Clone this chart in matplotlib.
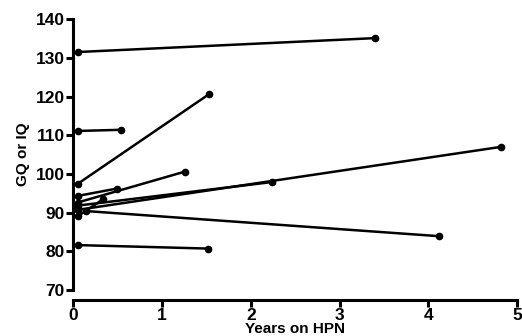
import matplotlib
matplotlib.use("Agg")
import matplotlib.pyplot as plt

# Dados: cada paciente tem um valor inicial e um valor de seguimento
anos_inicio = [0.05, 0.05, 0.05, 0.05, 0.05, 0.05, 0.05, 0.145, 0.05, 0.05]
anos_fim = [3.40, 0.54, 1.53, 0.49, 1.26, 2.24, 4.82, 4.12, 0.34, 1.52]
qi_inicio = [131.5, 111.1, 97.4, 94.3, 92.6, 91.8, 90.7, 90.4, 89.0, 81.6]
qi_fim = [135.1, 111.4, 120.6, 96.2, 100.6, 97.9, 107.0, 83.9, 93.5, 80.7]

x_ticks = [0, 1, 2, 3, 4, 5]
y_ticks = [70, 80, 90, 100, 110, 120, 130, 140]

plt.rcParams['font.family'] = ['Liberation Sans', 'DejaVu Sans']

fig = plt.figure(figsize=(5.22, 3.36), dpi=100)
ax = fig.add_axes([0.140, 0.137, 0.851, 0.806])

for x0, x1, y0, y1 in zip(anos_inicio, anos_fim, qi_inicio, qi_fim):
    ax.plot([x0, x1], [y0, y1], color="black", lw=1.8,
            marker="o", markersize=4.5, solid_capstyle="round")

ax.set_xlim(0, 5)
ax.set_ylim(70, 140)
ax.set_xticks(x_ticks)
ax.set_yticks(y_ticks)

ax.spines['top'].set_visible(False)
ax.spines['right'].set_visible(False)
ax.spines['bottom'].set_position(('outward', 7))
ax.spines['left'].set_linewidth(2.2)
ax.spines['bottom'].set_linewidth(2.2)
ax.tick_params(axis="both", direction="out", length=5, width=2.2,
               labelsize=12.5, pad=1)
for lab in ax.get_xticklabels() + ax.get_yticklabels():
    lab.set_fontweight("bold")

ax.set_xlabel("Years on HPN", fontsize=11, fontweight="bold", labelpad=-1)
ax.set_ylabel("GQ or IQ", fontsize=11, fontweight="bold", labelpad=4)

fig.savefig("out.png", dpi=100)
